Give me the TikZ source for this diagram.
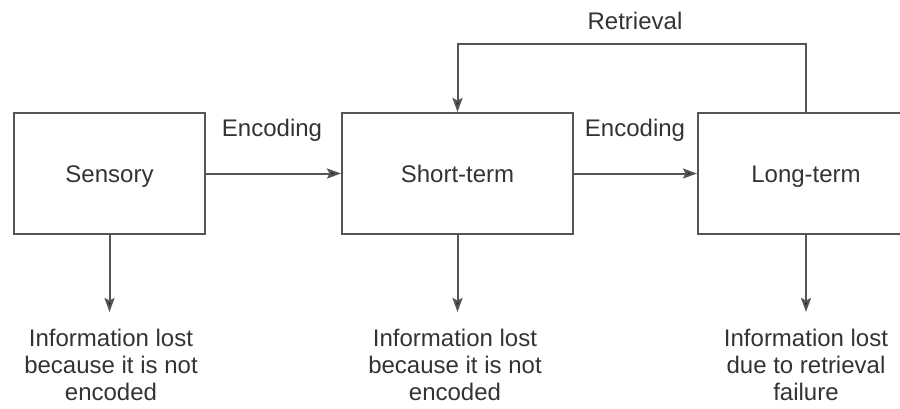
\documentclass[tikz,border=0pt]{standalone}
\usepackage{fontspec}
\setmainfont{Liberation Sans}
\usetikzlibrary{arrows.meta}
\definecolor{inkgray}{HTML}{333333}
\definecolor{linegray}{HTML}{555555}
\definecolor{tipgray}{HTML}{222222}
\newcommand{\memstore}[4][]{\node[draw=linegray,line width=1pt,minimum height=60.5pt,text height=8.6pt,text depth=0pt,#1] at (#2) (#3) {#4}}
\newcommand{\lostnote}[3]{\node[align=center,anchor=north,inner sep=0pt] at (#1) (#2) {#3}}

\begin{document}
\begin{tikzpicture}[x=0.5pt,y=-0.5pt,font=\fontsize{12}{13.5}\selectfont,text=inkgray,
		>={Stealth[length=7pt,width=5pt,inset=1.2pt,fill=tipgray]},
		link/.style={->,draw=linegray,line width=1pt}]
				\clip (0,0) rectangle (900,408);
				
				\memstore[minimum width=95.5pt]{109.5,173.5}{sens}{Sensory};
				\memstore[minimum width=115.5pt]{457.5,173.5}{short}{Short-term};
				\memstore[minimum width=108pt]{806,173.5}{long}{Long-term};
				
				\node[anchor=base] at (272,136) (enc1) {Encoding};
				\node[anchor=base] at (635,136) (enc2) {Encoding};
				\node[anchor=base] at (635,29.5) (retr) {Retrieval};
				\coordinate (rtop) at (636,44);
				
				\lostnote{111,329}{lost1}{Information lost\\because it is not\\encoded};
				\lostnote{455,329}{lost2}{Information lost\\because it is not\\encoded};
				\lostnote{806,329}{lost3}{Information lost\\due to retrieval\\failure};
				
				\draw [link] (sens) -- (short);
				\draw [link] (short) -- (long);
				\draw [link] (long.north) |- (rtop) -| (short.north);
				
				\draw [link, shorten >=8.5pt] (sens.south) -- (sens.south |- lost1.north);
				\draw [link, shorten >=8.5pt] (short.south) -- (short.south |- lost2.north);
				\draw [link, shorten >=8.5pt] (long.south) -- (long.south |- lost3.north);
				
				\end{tikzpicture}
\end{document}
